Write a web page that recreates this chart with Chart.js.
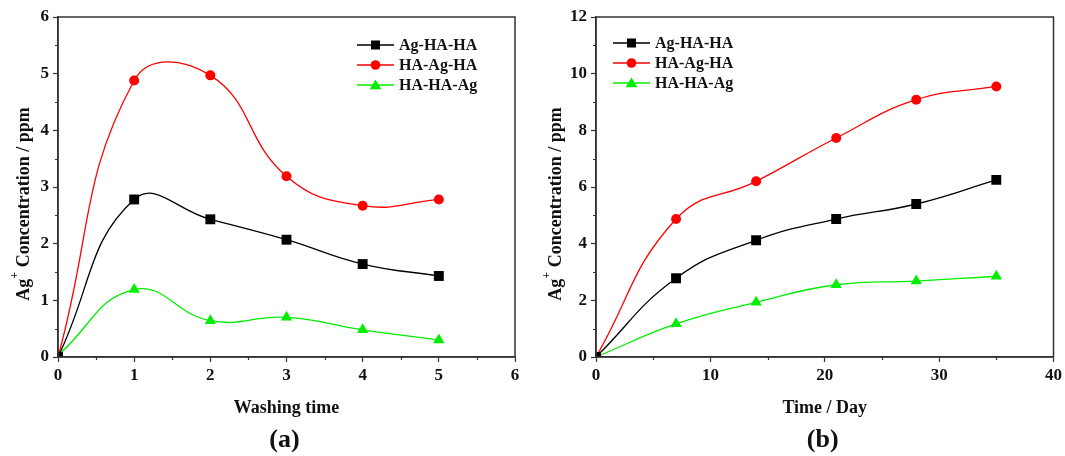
<!DOCTYPE html>
<html><head><meta charset="utf-8">
<script src="https://cdn.jsdelivr.net/npm/chart.js@4.4.1/dist/chart.umd.min.js"></script>
<style>
html,body{margin:0;padding:0;background:#fff;}
#wrap{position:relative;width:1065px;height:456px;overflow:hidden;}
.c{position:absolute;top:0;}
</style></head><body>
<div id="wrap">
<div class="c" style="left:0;width:540px;height:456px;"><canvas id="ca"></canvas></div>
<div class="c" style="left:540px;width:525px;height:456px;"><canvas id="cb"></canvas></div>
</div>
<script>
// ---------- data ----------
const seriesNames = ['Ag-HA-HA', 'HA-Ag-HA', 'HA-HA-Ag'];
const seriesColors = ['#000000', '#ff0000', '#00ee00'];
const seriesShapes = ['rect', 'circle', 'triangle'];

// (a) washing
const washX = [0, 1, 2, 3, 4, 5];
const washAgHaHa = [0.0, 2.78, 2.43, 2.07, 1.64, 1.43];
const washHaAgHa = [0.0, 4.88, 4.97, 3.19, 2.67, 2.78];
const washHaHaAg = [0.03, 1.19, 0.64, 0.70, 0.48, 0.30];
const washXTicks = [0, 1, 2, 3, 4, 5, 6];
const washYTicks = [0, 1, 2, 3, 4, 5, 6];

// (b) time
const dayX = [0, 7, 14, 21, 28, 35];
const dayAgHaHa = [0.0, 2.78, 4.12, 4.87, 5.40, 6.25];
const dayHaAgHa = [0.0, 4.87, 6.20, 7.73, 9.08, 9.55];
const dayHaHaAg = [0.0, 1.17, 1.93, 2.55, 2.68, 2.85];
const dayXTicks = [0, 10, 20, 30, 40];
const dayYTicks = [0, 2, 4, 6, 8, 10, 12];

const FONT = "'Liberation Serif','Times New Roman',serif";

function mkDatasets(xs, arrs) {
  return arrs.map((ys, i) => ({
    label: seriesNames[i],
    data: xs.map((x, j) => ({x: x, y: ys[j]})),
    borderColor: seriesColors[i],
    backgroundColor: seriesColors[i],
    borderWidth: 1.3,
    pointStyle: seriesShapes[i],
    pointRadius: i === 2 ? 6.5 : (i === 0 ? 7 : 5),
    pointBorderWidth: 0,
    tension: 0.45,
    fill: false
  }));
}

function drawMarker(ctx, shape, x, y, color) {
  ctx.save();
  ctx.fillStyle = color;
  ctx.beginPath();
  if (shape === 'rect') { ctx.rect(x - 4.5, y - 4.5, 9, 9); }
  else if (shape === 'circle') { ctx.arc(x, y, 4.8, 0, Math.PI * 2); }
  else { ctx.moveTo(x, y - 5.5); ctx.lineTo(x + 5.8, y + 4.2); ctx.lineTo(x - 5.8, y + 4.2); ctx.closePath(); }
  ctx.fill();
  ctx.restore();
}

function framePlugin(cfg) {
  return {
    id: 'frame',
    afterDraw(chart) {
      const ctx = chart.ctx, a = chart.chartArea;
      const xs = chart.scales.x, ys = chart.scales.y;
      ctx.save();
      ctx.strokeStyle = '#333';
      ctx.lineWidth = 1.5;
      ctx.strokeRect(a.left, a.top, a.right - a.left, a.bottom - a.top);
      // minor ticks
      ctx.lineWidth = 1.2;
      ctx.beginPath();
      for (let v = xs.min + cfg.xMinor; v < xs.max; v += cfg.xMinor * 2) {
        const px = Math.round(xs.getPixelForValue(v)) + 0.5;
        ctx.moveTo(px, a.bottom); ctx.lineTo(px, a.bottom + 3);
      }
      for (let v = ys.min + cfg.yMinor; v < ys.max; v += cfg.yMinor * 2) {
        const py = Math.round(ys.getPixelForValue(v)) + 0.5;
        ctx.moveTo(a.left, py); ctx.lineTo(a.left - 3, py);
      }
      ctx.stroke();

      ctx.fillStyle = '#111';
      // x title
      ctx.font = 'bold 18px ' + FONT;
      ctx.textAlign = 'center';
      ctx.textBaseline = 'middle';
      ctx.fillText(cfg.xTitle, (a.left + a.right) / 2, 408);
      // panel label
      ctx.font = 'bold 26px ' + FONT;
      ctx.fillText(cfg.panel, (a.left + a.right) / 2 - 2, 440);
      // y title with superscript
      ctx.save();
      ctx.translate(cfg.yTitleX, 204);
      ctx.rotate(-Math.PI / 2);
      const p1 = 'Ag', p2 = '+', p3 = ' Concentration / ppm';
      ctx.font = 'bold 18px ' + FONT;
      const w1 = ctx.measureText(p1).width, w3 = ctx.measureText(p3).width;
      ctx.font = 'bold 12px ' + FONT;
      const w2 = ctx.measureText(p2).width;
      const total = w1 + w2 + w3;
      let x0 = -total / 2;
      ctx.textAlign = 'left';
      ctx.font = 'bold 18px ' + FONT;
      ctx.fillText(p1, x0, 0);
      ctx.font = 'bold 12px ' + FONT;
      ctx.fillText(p2, x0 + w1, -9);
      ctx.font = 'bold 18px ' + FONT;
      ctx.fillText(p3, x0 + w1 + w2, 0);
      ctx.restore();

      // legend
      ctx.font = 'bold 16px ' + FONT;
      ctx.textAlign = 'left';
      ctx.textBaseline = 'middle';
      for (let i = 0; i < 3; i++) {
        const y = cfg.legY + i * 20;
        ctx.strokeStyle = seriesColors[i];
        ctx.lineWidth = 1.3;
        ctx.beginPath();
        ctx.moveTo(cfg.legX, y); ctx.lineTo(cfg.legX + 37, y);
        ctx.stroke();
        drawMarker(ctx, seriesShapes[i], cfg.legX + 18.5, y, seriesColors[i]);
        ctx.fillStyle = '#111';
        ctx.fillText(seriesNames[i], cfg.legX + 42, y + 1);
      }
      ctx.restore();
    }
  };
}

function mkChart(id, xs, arrs, xTicks, yTicks, xMax, yMax, xStep, yStep, yW, padR, cfg) {
  return new Chart(document.getElementById(id), {
    type: 'line',
    data: {datasets: mkDatasets(xs, arrs)},
    options: {
      responsive: true,
      maintainAspectRatio: false,
      animation: false,
      layout: {padding: {left: 0, right: padR, top: 17, bottom: 0}},
      plugins: {legend: {display: false}, tooltip: {enabled: false}},
      scales: {
        x: {
          type: 'linear', min: 0, max: xMax,
          afterFit(s) { s.height = 99; },
          afterBuildTicks(s) { s.ticks = xTicks.map(v => ({value: v})); },
          ticks: {stepSize: xStep, color: '#111', font: {family: FONT, size: 17, weight: 'bold'}, padding: 3, maxRotation: 0},
          grid: {display: true, drawOnChartArea: false, drawTicks: true, tickLength: 5, tickColor: '#333', tickWidth: 1.2},
          border: {display: true, color: '#333', width: 1.5}
        },
        y: {
          type: 'linear', min: 0, max: yMax,
          afterFit(s) { s.width = yW; },
          afterBuildTicks(s) { s.ticks = yTicks.map(v => ({value: v})); },
          ticks: {stepSize: yStep, color: '#111', font: {family: FONT, size: 17, weight: 'bold'}, padding: 4},
          grid: {display: true, drawOnChartArea: false, drawTicks: true, tickLength: 5, tickColor: '#333', tickWidth: 1.2},
          border: {display: true, color: '#333', width: 1.5}
        }
      }
    },
    plugins: [framePlugin(cfg)]
  });
}

mkChart('ca', washX, [washAgHaHa, washHaAgHa, washHaHaAg], washXTicks, washYTicks, 6, 6, 1, 1, 58, 25,
  {xMinor: 0.5, yMinor: 0.5, xTitle: 'Washing time', panel: '(a)', yTitleX: 24, legX: 357, legY: 45});
mkChart('cb', dayX, [dayAgHaHa, dayHaAgHa, dayHaHaAg], dayXTicks, dayYTicks, 40, 12, 10, 2, 56, 11,
  {xMinor: 5, yMinor: 1, xTitle: 'Time / Day', panel: '(b)', yTitleX: 16, legX: 73, legY: 43});
</script>
</body></html>
